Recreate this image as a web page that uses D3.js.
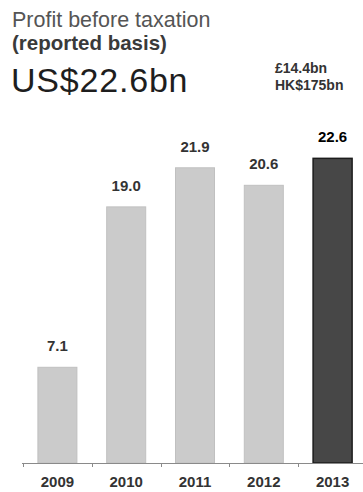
<!DOCTYPE html>
<html>
<head>
<meta charset="utf-8">
<script src="https://cdn.jsdelivr.net/npm/d3@7/dist/d3.min.js"></script>
<style>
  html, body { margin: 0; padding: 0; background: #fff; }
  svg { display: block; }
  text { font-family: "Liberation Sans", Arial, sans-serif; }
</style>
</head>
<body>
<svg id="chart" width="363" height="492"></svg>
<script>
// Profit before taxation, reported basis (US$bn)
const years = ["2009", "2010", "2011", "2012", "2013"];
const profit = [7.1, 19.0, 21.9, 20.6, 22.6];
const valueLabels = ["7.1", "19.0", "21.9", "20.6", "22.6"];
const highlightYear = "2013";

const titleLines = ["Profit before taxation", "(reported basis)"];
const headline = "US$22.6bn";
const otherCurrencies = ["£14.4bn", "HK$175bn"];

const svg = d3.select("#chart");
const W = 363, H = 492;
const baseY = 463;

// Header
svg.append("text").attr("x", 12).attr("y", 27)
  .attr("font-size", 21.5).attr("fill", "#555")
  .text(titleLines[0]);
svg.append("text").attr("x", 12).attr("y", 50)
  .attr("font-size", 20.5).attr("font-weight", "bold").attr("fill", "#3a3a3a")
  .text(titleLines[1]);
svg.append("text").attr("x", 11).attr("y", 92)
  .attr("font-size", 34).attr("letter-spacing", 0.8).attr("fill", "#1e1e1e")
  .text(headline);
svg.selectAll("text.alt").data(otherCurrencies).join("text")
  .attr("class", "alt")
  .attr("x", 275).attr("y", (d, i) => 73 + i * 17)
  .attr("font-size", 14).attr("font-weight", "bold").attr("fill", "#333")
  .text(d => d);

// Scales
const x = d3.scaleBand().domain(years).range([23, 367])
  .paddingInner(0.433).paddingOuter(0.2165);
const y = d3.scaleLinear().domain([0, 25]).range([baseY, baseY - 337]);

const data = years.map((yr, i) => ({ year: yr, value: profit[i], label: valueLabels[i] }));

// Bars
svg.append("g").selectAll("rect").data(data).join("rect")
  .attr("x", d => x(d.year))
  .attr("y", d => y(d.value))
  .attr("width", x.bandwidth())
  .attr("height", d => y(0) - y(d.value))
  .attr("fill", d => d.year === highlightYear ? "#474747" : "#cbcbcb")
  .attr("stroke", d => d.year === highlightYear ? "#1c1c1c" : "#c0c0c0")
  .attr("stroke-width", d => d.year === highlightYear ? 1.5 : 1);

// Value labels
svg.append("g").selectAll("text").data(data).join("text")
  .attr("x", d => x(d.year) + x.bandwidth() / 2)
  .attr("y", d => y(d.value) - 16)
  .attr("text-anchor", "middle")
  .attr("font-size", 15).attr("font-weight", "bold")
  .attr("fill", d => d.year === highlightYear ? "#000" : "#333")
  .text(d => d.label);

// Axis: category labels under each bar
const axis = d3.axisBottom(x).tickSize(0).tickPadding(0);
const gx = svg.append("g").attr("transform", `translate(0,${baseY})`).call(axis);
gx.select(".domain").remove();
gx.selectAll(".tick text")
  .attr("y", 24).attr("dy", 0)
  .attr("font-family", "Liberation Sans, Arial, sans-serif")
  .attr("font-size", 15).attr("font-weight", "bold").attr("fill", "#333");

// Baseline with tick marks at the band boundaries
svg.append("line")
  .attr("x1", x.range()[0] - 1).attr("x2", W)
  .attr("y1", baseY + 0.5).attr("y2", baseY + 0.5)
  .attr("stroke", "#8a8a8a").attr("stroke-width", 1);
const boundaries = d3.range(years.length).map(i => x.range()[0] + i * x.step());
svg.append("g").selectAll("line").data(boundaries).join("line")
  .attr("x1", d => Math.round(d) + 0.5).attr("x2", d => Math.round(d) + 0.5)
  .attr("y1", baseY).attr("y2", baseY + 4)
  .attr("stroke", "#8a8a8a").attr("stroke-width", 1);
</script>
</body>
</html>
